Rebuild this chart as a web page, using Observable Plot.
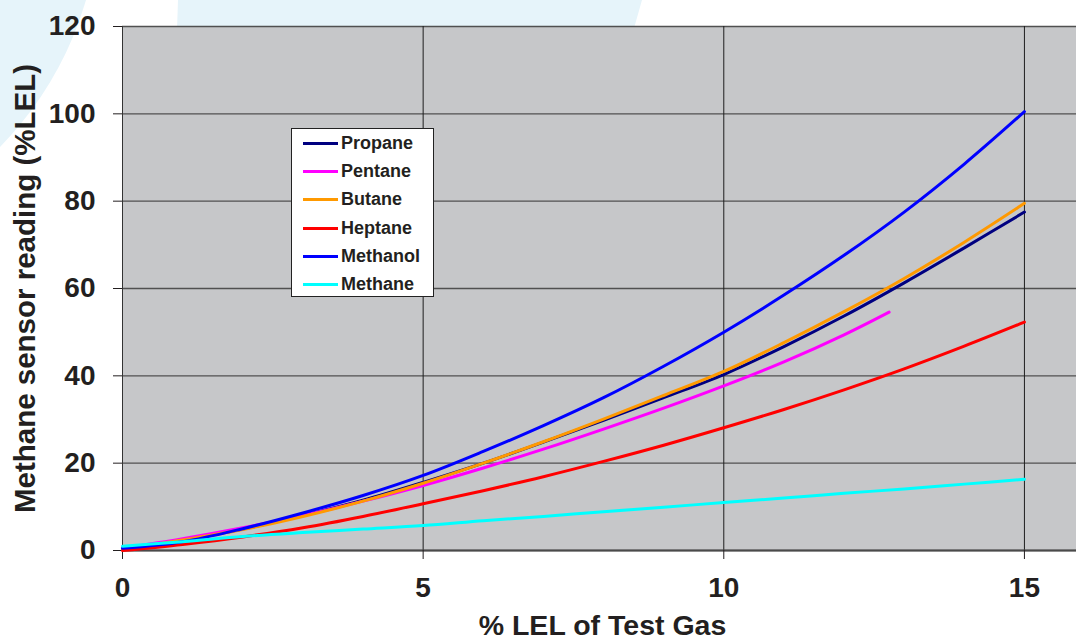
<!DOCTYPE html>
<html>
<head>
<meta charset="utf-8">
<script src="https://cdn.jsdelivr.net/npm/d3@7"></script>
<script src="https://cdn.jsdelivr.net/npm/@observablehq/plot@0.6"></script>
<style>
  html, body { margin: 0; padding: 0; background: #ffffff; }
  #wrap { position: relative; width: 1076px; height: 642px; overflow: hidden; background: #ffffff; }
  .deco { position: absolute; background: #e6f4fa; }
  #decoA { left: -600px; top: -448px; width: 700px; height: 700px; border-radius: 50%; }
  #decoB { left: 0; top: 0; width: 1076px; height: 60px; clip-path: polygon(178px 0, 642px 0, 625px 60px, 176px 60px); }
  #chart { position: absolute; left: 0; top: 0; }
  #legend { position: absolute; background: #ffffff; border: 1px solid #222; box-sizing: border-box;
            font-family: "Liberation Sans", Arial, sans-serif; font-weight: bold; font-size: 18px; color: #231f20; }
  #legend .row { display: flex; align-items: center; height: 28.3px; }
  #legend .sw { width: 35px; height: 3px; margin-left: 11px; margin-right: 3px; }
</style>
</head>
<body>
<div id="wrap">
  <div class="deco" id="decoA"></div>
  <div class="deco" id="decoB"></div>
  <div id="chart"></div>
  <div id="legend"></div>
</div>
<script>
// ---- data ----
const gasX = [0, 1, 2, 3, 4, 5, 6, 7, 8, 9, 10, 11, 12, 13, 14, 15];
const pentaneX = [0, 1, 2, 3, 4, 5, 6, 7, 8, 9, 10, 11, 12, 12.75];

const propane  = [0.3, 2.4, 4.9, 8.0, 11.5, 15.6, 20.0, 24.8, 29.8, 35.0, 40.3, 46.7, 53.7, 61.3, 69.3, 77.5];
const pentane  = [0.5, 2.7, 5.2, 8.0, 11.3, 14.9, 18.9, 23.2, 27.8, 32.6, 37.7, 43.2, 49.4, 54.6];
const butane   = [0.3, 2.4, 4.8, 7.8, 11.3, 15.4, 20.0, 24.9, 30.1, 35.5, 41.0, 47.6, 54.7, 62.3, 70.6, 79.5];
const heptane  = [0.0, 1.4, 3.1, 5.2, 7.8, 10.7, 13.7, 16.9, 20.4, 24.1, 28.1, 32.3, 36.8, 41.6, 46.8, 52.3];
const methanol = [0.5, 2.0, 5.0, 8.6, 12.6, 17.2, 22.7, 28.6, 35.0, 42.2, 50.0, 58.5, 67.6, 77.5, 88.5, 100.5];
const methane  = [1.0, 2.0, 3.2, 4.1, 4.9, 5.7, 6.8, 7.8, 8.9, 9.9, 11.0, 12.0, 13.1, 14.1, 15.2, 16.3];

const seriesNames  = ["Propane", "Pentane", "Butane", "Heptane", "Methanol", "Methane"];
const seriesColors = ["#000080", "#ff00ff", "#ff9900", "#ff0000", "#0000ff", "#00ffff"];
const seriesX      = [gasX, pentaneX, gasX, gasX, gasX, gasX];
const seriesY      = [propane, pentane, butane, heptane, methanol, methane];

const xTicks = [0, 5, 10, 15];
const yTicks = [0, 20, 40, 60, 80, 100, 120];
const xTitle = "% LEL of Test Gas";
const yTitle = "Methane sensor reading (%LEL)";

// ---- build table ----
const rows = [];
seriesNames.forEach((name, i) => {
  seriesX[i].forEach((x, j) => rows.push({gas: name, x, y: seriesY[i][j]}));
});

const font = "Liberation Sans, Arial, Helvetica, sans-serif";
const ink = "#231f20";

const chart = Plot.plot({
  width: 1076,
  height: 642,
  marginLeft: 122,
  marginRight: 0,
  marginTop: 26,
  marginBottom: 92,
  style: {background: "transparent", fontFamily: font},
  x: {domain: [0, 15.866]},
  y: {domain: [0, 120]},
  color: {domain: seriesNames, range: seriesColors},
  marks: [
    Plot.frame({fill: "#c6c7c9", stroke: null}),
    Plot.gridY(yTicks, {stroke: "#505050", strokeOpacity: 1, strokeWidth: 1.3}),
    Plot.gridX(xTicks, {stroke: "#1e1e1e", strokeOpacity: 1, strokeWidth: 1}),
    Plot.ruleX([0], {stroke: "#333", strokeWidth: 1}),
    Plot.ruleY([0], {stroke: "#4a4a4a", strokeWidth: 2}),
    Plot.axisY(yTicks, {
      tickSize: 9, tickPadding: 18, fontSize: 28, fontWeight: "bold", color: ink, label: null
    }),
    Plot.axisX(xTicks, {
      tickSize: 9, tickPadding: 18, fontSize: 28, fontWeight: "bold", color: ink, label: null
    }),
    Plot.text([yTitle], {
      frameAnchor: "left", rotate: -90, dx: -97, textAnchor: "middle", lineAnchor: "middle",
      fontSize: 29.5, fontWeight: "bold", fill: ink
    }),
    Plot.text([xTitle], {
      frameAnchor: "bottom", dx: 3, dy: 75.5, textAnchor: "middle", lineAnchor: "middle",
      fontSize: 28.5, fontWeight: "bold", fill: ink
    }),
    Plot.line(rows, {x: "x", y: "y", z: "gas", stroke: "gas", strokeWidth: 3, curve: "catmull-rom"})
  ]
});
document.getElementById("chart").append(chart);

// ---- legend ----
const legend = d3.select("#legend")
  .style("left", "291px").style("top", "128px")
  .style("width", "143px").style("height", "169px");
const lrows = legend.selectAll("div.row").data(seriesNames).join("div").attr("class", "row");
lrows.append("div").attr("class", "sw").style("background", (d, i) => seriesColors[i]);
lrows.append("span").text(d => d);
</script>
</body>
</html>
